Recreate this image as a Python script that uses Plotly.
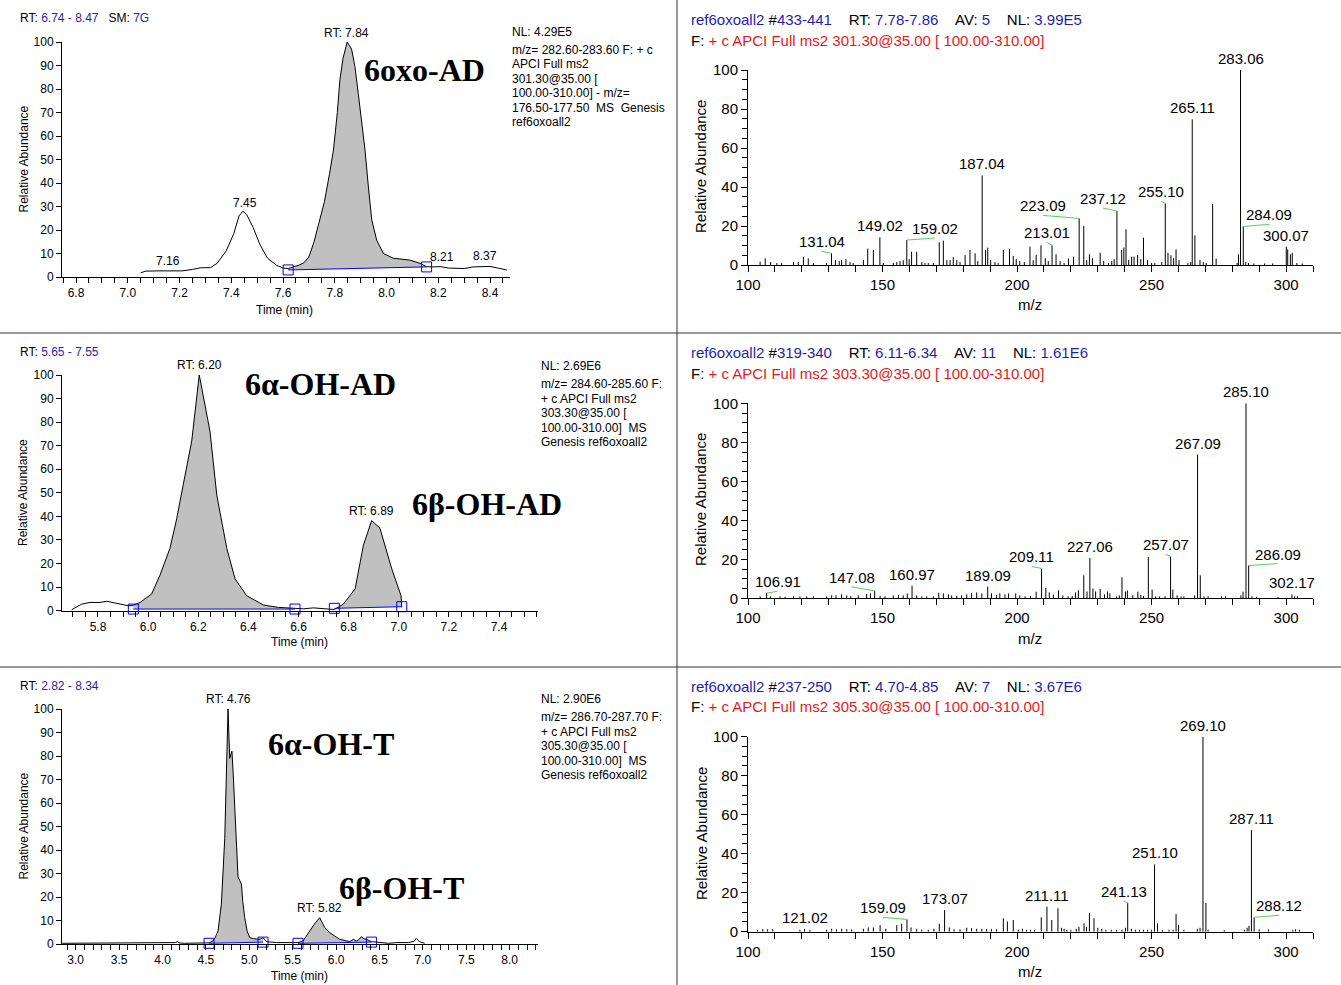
import plotly.graph_objects as go
import numpy as np

W, H = 1341, 985

# ---------------- chromatogram data ----------------
# 6oxo-AD  (m/z 283)
c1_t = [7.05, 7.07, 7.12, 7.16, 7.21, 7.25, 7.28, 7.32, 7.345, 7.38, 7.41, 7.43, 7.445, 7.46,
        7.485, 7.51, 7.54, 7.575, 7.60, 7.62, 7.64, 7.66, 7.68, 7.70, 7.72, 7.74, 7.76, 7.78,
        7.795, 7.81, 7.82, 7.832, 7.848, 7.865, 7.878, 7.891, 7.904, 7.917, 7.93, 7.943, 7.962,
        7.988, 8.026, 8.09, 8.13, 8.155, 8.18, 8.21, 8.24, 8.27, 8.30, 8.335, 8.37, 8.40, 8.43, 8.465]
c1_a = [1.8, 2.5, 2.6, 2.6, 2.6, 3.2, 3.9, 4.0, 5.8, 11.0, 18.5, 26.0, 28.0, 26.5,
        21.0, 14.0, 8.0, 5.0, 3.8, 3.6, 4.2, 5.0, 6.0, 8.5, 15.0, 23.0, 32.0, 44.0,
        54.0, 70.0, 84.0, 93.0, 100.0, 97.0, 89.5, 78.0, 66.8, 54.0, 38.4, 24.3, 15.7,
        10.0, 8.0, 7.2, 5.8, 4.4, 4.3, 4.4, 3.8, 3.6, 3.6, 4.3, 4.5, 4.5, 3.8, 3.0]
c1_int_t = [[7.62, 8.155]]
c1_int_b = [[3.0, 4.3]]
c1_lab_t = [7.156, 7.453, 7.847, 8.214, 8.38]
c1_lab = ["7.16", "7.45", "RT: 7.84", "8.21", "8.37"]

# 6a/6b-OH-AD (m/z 285)
c2_t = [5.695, 5.735, 5.768, 5.808, 5.835, 5.875, 5.921, 5.941, 5.968, 6.014, 6.047, 6.087,
        6.114, 6.140, 6.174, 6.204, 6.247, 6.274, 6.314, 6.347, 6.393, 6.460, 6.52, 6.586,
        6.62, 6.66, 6.70, 6.743, 6.779, 6.826, 6.859, 6.892, 6.925, 6.972, 7.009, 7.012]
c2_a = [0.4, 2.8, 3.5, 3.5, 4.0, 3.1, 2.1, 2.3, 3.5, 7.1, 15.0, 26.4,
        39.0, 53.4, 72.0, 100.0, 76.0, 49.0, 26.4, 13.5, 6.4, 2.4, 1.4, 1.0,
        0.8, 1.2, 0.8, 0.5, 2.8, 9.3, 27.8, 38.2, 35.0, 17.8, 6.4, 1.5]
c2_int_t = [[5.941, 6.586], [6.743, 7.012]]
c2_int_b = [[0.7, 0.7], [1.0, 1.7]]
c2_lab_t = [6.204, 6.892]
c2_lab = ["RT: 6.20", "RT: 6.89"]

# 6a/6b-OH-T (m/z 287)
c3_t = [2.845, 4.10, 4.15, 4.17, 4.19, 4.25, 4.486, 4.536, 4.582, 4.61, 4.64, 4.678, 4.717,
        4.755, 4.774, 4.787, 4.80, 4.815, 4.832, 4.85, 4.87, 4.89, 4.909, 4.925, 4.947, 4.975,
        5.005, 5.05, 5.10, 5.13, 5.158, 5.197, 5.25, 5.312, 5.40, 5.465, 5.503, 5.561, 5.619,
        5.66, 5.715, 5.76, 5.811, 5.84, 5.869, 5.92, 5.964, 6.00, 6.041, 6.10, 6.156, 6.20,
        6.23, 6.26, 6.29, 6.32, 6.35, 6.407, 6.45, 6.50, 6.604, 6.70, 6.836, 6.90, 6.924,
        6.96, 7.02]
c3_a = [0.3, 0.3, 0.6, 1.0, 0.5, 0.3, 0.3, 0.5, 1.3, 3.0, 5.6, 17.0, 45.0,
        100.0, 79.0, 81.0, 82.0, 72.0, 60.0, 44.0, 28.5, 27.0, 25.5, 18.0, 11.2, 5.5,
        2.7, 2.3, 2.0, 2.2, 2.7, 1.0, 0.7, 0.6, 0.6, 0.6, 0.3, 0.6, 1.3,
        3.5, 7.0, 9.0, 11.2, 9.0, 7.0, 5.0, 4.1, 3.0, 2.0, 1.6, 1.0, 2.0,
        1.2, 1.8, 3.1, 2.2, 2.0, 1.0, 0.8, 0.6, 0.3, 0.6, 0.6, 1.2, 2.4,
        1.0, 0.3]
c3_int_t = [[4.536, 5.158], [5.561, 6.407]]
c3_int_b = [[0.3, 0.8], [0.3, 0.8]]
c3_lab_t = [4.755, 5.811]
c3_lab = ["RT: 4.76", "RT: 5.82"]

# ---------------- spectra data ----------------
s1_mz = [104.5, 106.4, 108.4, 110.7, 112.5, 116.9, 118.7, 120.6, 122.4, 124.3, 129.2, 131.04,
         132.5, 133.9, 134.8, 136.4, 137.9, 139.1, 142.9, 144.5, 146.6, 149.02, 150.3, 154.0,
         155.3, 156.5, 157.7, 159.02, 159.9, 160.8, 162.7, 164.6, 165.8, 167.0, 168.9, 171.1,
         172.6, 173.9, 175.1, 176.3, 177.6, 178.8, 180.7, 182.5, 184.4, 185.4, 187.04, 188.3,
         189.1, 190.2, 191.8, 193.0, 194.9, 197.2, 198.6, 199.7, 201.0, 202.7, 204.8, 206.0,
         207.1, 208.9, 210.5, 211.6, 213.01, 214.5, 216.0, 217.5, 219.1, 221.0, 223.09, 224.8,
         225.9, 226.9, 228.0, 230.9, 232.2, 234.0, 235.2, 236.1, 237.12, 238.9, 239.7, 240.5,
         241.5, 242.6, 243.5, 244.8, 246.0, 247.0, 248.5, 250.0, 251.2, 253.8, 255.10, 256.1,
         257.2, 258.2, 259.1, 260.2, 263.5, 264.5, 265.11, 266.1, 268.0, 269.2, 270.3, 272.7,
         274.0, 281.8, 282.3, 283.06, 284.09, 285.0, 286.0, 288.0, 292.0, 295.0, 300.07, 300.6,
         301.6, 302.3, 304.0, 306.0]
s1_ab = [1.7, 3.4, 1.5, 1.0, 1.0, 1.5, 1.5, 4.3, 3.4, 1.0, 1.0, 6.0,
         2.5, 2.0, 2.5, 3.0, 1.5, 1.0, 2.5, 8.4, 7.7, 14.2, 1.0, 1.0,
         1.5, 2.0, 2.5, 12.8, 3.0, 6.8, 6.8, 1.5, 1.0, 1.0, 1.0, 11.6,
         12.5, 2.5, 2.5, 4.0, 2.5, 1.5, 5.1, 7.7, 6.0, 2.0, 46.0, 7.7,
         8.9, 2.5, 1.5, 1.0, 7.7, 8.4, 4.6, 3.0, 2.0, 1.5, 9.4, 2.5,
         5.1, 10.1, 3.5, 2.0, 10.1, 5.5, 2.0, 1.0, 3.3, 4.3, 23.9, 20.0,
         2.5, 5.5, 3.5, 6.3, 2.0, 1.0, 2.0, 3.0, 27.7, 7.7, 9.0, 18.3,
         2.5, 4.3, 4.3, 5.1, 3.0, 14.0, 2.5, 1.0, 1.0, 1.5, 31.6, 6.3,
         5.0, 3.5, 8.0, 2.5, 1.0, 1.5, 74.7, 15.2, 2.6, 1.5, 1.0, 31.3,
         3.3, 1.0, 5.5, 100.0, 19.8, 1.5, 1.0, 0.8, 0.8, 0.8, 9.4, 8.0,
         5.5, 6.3, 1.0, 0.8]
s1_labels = [131.04, 149.02, 159.02, 187.04, 213.01, 223.09, 237.12, 255.10, 265.11, 283.06, 284.09, 300.07]

s2_mz = [104.5, 106.91, 108.4, 111.9, 113.8, 116.9, 119.3, 121.8, 124.3, 129.2, 131.1, 132.7,
         134.8, 136.7, 138.2, 141.0, 144.1, 145.5, 147.08, 149.1, 150.9, 154.0, 155.9, 157.7,
         159.2, 160.97, 162.7, 164.6, 166.4, 168.9, 170.9, 172.6, 174.5, 175.7, 177.6, 179.4,
         181.3, 183.1, 185.0, 186.9, 189.09, 190.5, 192.4, 193.6, 195.5, 196.8, 199.5, 201.0,
         203.0, 205.0, 207.1, 209.11, 210.7, 212.0, 213.5, 215.4, 217.0, 219.0, 220.5, 221.7,
         222.8, 224.8, 226.0, 227.06, 228.2, 229.2, 230.9, 232.5, 233.6, 234.5, 237.0, 238.0,
         239.0, 240.3, 241.0, 243.0, 244.9, 246.0, 247.0, 248.8, 250.2, 251.5, 253.0, 255.0,
         257.07, 257.9, 259.5, 261.0, 262.0, 266.0, 267.09, 268.1, 269.5, 271.0, 276.0, 277.5,
         283.2, 284.0, 285.10, 286.09, 287.3, 289.0, 297.0, 302.17, 303.2, 304.2]
s2_ab = [1.0, 2.6, 1.0, 1.0, 0.8, 1.0, 1.0, 1.0, 1.0, 1.0, 1.5, 1.5,
         2.0, 1.5, 1.2, 1.5, 2.2, 2.5, 3.8, 1.3, 1.0, 1.5, 1.8, 1.5,
         2.5, 6.5, 1.5, 1.0, 1.0, 1.0, 2.8, 2.5, 2.0, 1.5, 1.3, 1.5,
         2.0, 2.8, 3.0, 2.5, 6.0, 2.5, 1.8, 2.5, 2.0, 2.5, 2.5, 1.5,
         1.0, 1.2, 3.4, 15.3, 5.3, 3.0, 2.0, 4.1, 1.5, 1.0, 1.2, 3.0,
         4.1, 11.8, 3.5, 20.7, 5.0, 3.5, 4.8, 2.0, 3.5, 2.5, 1.0, 1.5,
         10.8, 3.5, 4.0, 1.5, 3.4, 1.8, 1.2, 21.2, 4.5, 1.0, 1.0, 1.0,
         21.5, 4.5, 1.5, 1.0, 1.0, 1.5, 73.7, 11.8, 1.0, 1.0, 1.0, 1.0,
         1.5, 3.4, 100.0, 16.8, 1.0, 0.8, 0.6, 2.0, 1.0, 1.0]
s2_labels = [106.91, 147.08, 160.97, 189.09, 209.11, 227.06, 257.07, 267.09, 285.10, 286.09, 302.17]

s3_mz = [103.5, 105.5, 107.2, 109.2, 119.3, 121.02, 123.0, 129.2, 131.1, 132.9, 134.8, 136.7,
         138.5, 142.9, 144.7, 146.6, 149.1, 151.2, 155.3, 157.1, 159.09, 160.6, 162.7, 164.6,
         167.0, 169.1, 171.1, 173.07, 174.8, 176.6, 178.8, 181.3, 183.1, 185.0, 186.9, 188.7,
         190.5, 192.4, 194.9, 196.4, 198.6, 200.5, 202.0, 203.5, 205.0, 206.5, 209.0, 211.11,
         212.9, 215.2, 216.5, 217.5, 218.5, 220.0, 222.0, 223.0, 224.9, 225.8, 226.9, 228.6,
         230.0, 231.5, 233.0, 235.0, 237.0, 239.0, 240.3, 241.13, 242.5, 244.0, 245.5, 247.0,
         248.5, 250.0, 251.10, 252.2, 254.0, 256.5, 258.0, 259.1, 260.0, 262.0, 267.0, 268.0,
         269.10, 270.2, 271.0, 277.0, 284.5, 285.5, 286.2, 287.11, 288.12, 290.0, 293.5, 302.5,
         303.5, 305.0]
s3_ab = [1.0, 1.3, 1.2, 1.3, 1.0, 1.5, 1.0, 1.0, 1.5, 1.2, 1.5, 1.3,
         1.2, 1.5, 2.2, 2.2, 3.4, 1.5, 3.4, 4.1, 6.3, 2.2, 1.5, 1.0,
         1.0, 1.5, 4.1, 11.1, 2.2, 1.2, 1.2, 2.0, 1.8, 1.5, 1.5, 1.3,
         1.3, 1.3, 6.9, 5.2, 6.0, 1.0, 1.5, 1.0, 1.0, 1.0, 7.4, 12.8,
         6.0, 12.0, 2.0, 1.5, 1.0, 1.0, 1.5, 2.5, 4.3, 2.5, 9.7, 6.9,
         2.0, 1.5, 1.0, 1.0, 1.0, 1.0, 2.0, 14.8, 1.5, 1.0, 1.0, 1.0,
         1.0, 1.0, 34.5, 4.3, 0.8, 1.0, 1.0, 9.1, 3.5, 1.0, 1.5, 2.0,
         100.0, 14.8, 1.0, 0.8, 1.0, 2.0, 3.0, 52.1, 7.4, 1.2, 1.2, 1.0,
         1.2, 1.0]
s3_labels = [121.02, 159.09, 173.07, 211.11, 241.13, 251.10, 269.10, 287.11, 288.12]

# label placement offsets (pixels) for displaced labels (drawn with green leader)
s1_off = {131.04: (-10, 2), 159.02: (28, 2), 213.01: (-5, 3), 223.09: (-36, 3),
          237.12: (-14, 3), 255.10: (-4, 2), 284.09: (26, 2)}
s2_off = {106.91: (11, 2), 147.08: (-23, 4), 209.11: (-10, 2), 257.07: (-5, 2), 286.09: (29, 2)}
s3_off = {159.09: (-24, 2), 241.13: (-4, 2), 288.12: (25, 2)}

# ---------------- styling ----------------
BLUE_TXT = '#1f1fa8'
RED_TXT = '#e31b1b'
FILL = '#c0c0c0'
GREEN = '#5fc95f'
FONT = 'Liberation Sans, Arial, sans-serif'
SERIF = 'Liberation Serif, Times New Roman, serif'


def dom_x(a, b):
    return [a / W, b / W]


def dom_y(top, bottom):
    return [1 - bottom / H, 1 - top / H]


def px(xp):
    return xp / W


def py(yp):
    return 1 - yp / H


fig = go.Figure()


def axnames(n):
    return ('x' if n == 1 else f'x{n}'), ('y' if n == 1 else f'y{n}')


def chrom_panel(n, t, a, ints, bases, lab_t, labs):
    xa, ya = axnames(n)
    t = np.array(t, dtype=float)
    a = np.array(a, dtype=float)
    for (ts, te), (bs, be) in zip(ints, bases):
        m = (t >= ts - 1e-9) & (t <= te + 1e-9)
        fx = [ts] + list(t[m]) + [te]
        fy = [bs] + list(a[m]) + [be]
        fig.add_trace(go.Scatter(x=fx, y=fy, fill='toself', fillcolor=FILL, mode='lines',
                                 line=dict(width=0, color=FILL), xaxis=xa, yaxis=ya,
                                 hoverinfo='skip'))
    fig.add_trace(go.Scatter(x=t, y=a, mode='lines', line=dict(color='black', width=1),
                             xaxis=xa, yaxis=ya))
    for (ts, te), (bs, be) in zip(ints, bases):
        fig.add_trace(go.Scatter(x=[ts, te], y=[bs, be], mode='lines+markers',
                                 line=dict(color='#0000ff', width=1),
                                 marker=dict(symbol='square-open', size=10, color='#0000ff',
                                             line=dict(width=1)),
                                 cliponaxis=False, xaxis=xa, yaxis=ya))
    for tl, txt in zip(lab_t, labs):
        fig.add_annotation(x=tl, y=float(np.interp(tl, t, a)), text=txt, xref=xa, yref=ya,
                           showarrow=False, yanchor='bottom', yshift=1,
                           font=dict(size=12, family=FONT, color='black'))


def spec_panel(n, mz, ab, labels, offs):
    xa, ya = axnames(n)
    xs, ys = [], []
    for m, v in zip(mz, ab):
        xs += [m, m, None]
        ys += [0, v, None]
    fig.add_trace(go.Scatter(x=xs, y=ys, mode='lines', line=dict(color='black', width=1),
                             xaxis=xa, yaxis=ya))
    lookup = dict(zip(mz, ab))
    for m in labels:
        v = lookup[m]
        dx, dy = offs.get(m, (0, 1))
        if m in offs:
            fig.add_shape(type='line', xref=xa, yref=ya, xsizemode='pixel', ysizemode='pixel',
                          xanchor=m, yanchor=v, x0=0, x1=dx, y0=0, y1=dy,
                          line=dict(color=GREEN, width=1))
        fig.add_annotation(x=m, y=v, text=f"{m:.2f}", xref=xa, yref=ya, showarrow=False,
                           yanchor='bottom', xshift=dx, yshift=dy - 1 if m in offs else 1,
                           font=dict(size=15, family=FONT, color='black'))


chrom_panel(1, c1_t, c1_a, c1_int_t, c1_int_b, c1_lab_t, c1_lab)
chrom_panel(2, c2_t, c2_a, c2_int_t, c2_int_b, c2_lab_t, c2_lab)
chrom_panel(3, c3_t, c3_a, c3_int_t, c3_int_b, c3_lab_t, c3_lab)
spec_panel(4, s1_mz, s1_ab, s1_labels, s1_off)
spec_panel(5, s2_mz, s2_ab, s2_labels, s2_off)
spec_panel(6, s3_mz, s3_ab, s3_labels, s3_off)


def base_axis(fs):
    return dict(showline=True, linecolor='black', linewidth=1, ticks='outside',
                tickcolor='black', tickwidth=1, showgrid=False, zeroline=False,
                automargin=False,
                tickfont=dict(size=fs, family=FONT, color='black'), fixedrange=True)


layout_axes = {}
# chromatogram axes
chrom_specs = [
    (1, [62, 510], [6.7459, 8.4773], 6.8, 0.2, 0.05, 42, 277),
    (2, [62, 538], [5.6564, 7.5556], 5.8, 0.2, 0.05, 375, 610.7),
    (3, [62, 538], [2.842, 8.326], 3.0, 0.5, 0.1, 709, 944),
]
for n, xd, xr, t0, dt, mdt, ytop, ybot in chrom_specs:
    xa, ya = axnames(n)
    xk = 'xaxis' if n == 1 else f'xaxis{n}'
    yk = 'yaxis' if n == 1 else f'yaxis{n}'
    ax = base_axis(12)
    ax.update(domain=dom_x(*xd), range=xr, anchor=ya, tick0=t0, dtick=dt, tickformat='.1f',
              ticklen=5,
              minor=dict(ticks='outside', tick0=t0, dtick=mdt, ticklen=5, tickcolor='black',
                         showgrid=False))
    layout_axes[xk] = ax
    ay = base_axis(12)
    ay.update(domain=dom_y(ytop, ybot), range=[0, 100], anchor=xa, tick0=0, dtick=10,
              ticklen=5)
    layout_axes[yk] = ay

spec_specs = [(4, 70, 265), (5, 403.3, 598.3), (6, 736.7, 931.7)]
for n, ytop, ybot in spec_specs:
    xa, ya = axnames(n)
    ax = base_axis(15)
    ax.update(domain=dom_x(748, 1313), range=[100, 310], anchor=ya, tick0=100, dtick=50,
              ticklen=6,
              minor=dict(ticks='outside', tick0=100, dtick=10, ticklen=6, tickcolor='black',
                         showgrid=False))
    layout_axes[f'xaxis{n}'] = ax
    ay = base_axis(15)
    ay.update(domain=dom_y(ytop, ybot), range=[0, 100], anchor=xa, tick0=0, dtick=20,
              ticklen=6,
              minor=dict(ticks='outside', tick0=0, dtick=5, ticklen=5, tickcolor='black',
                         showgrid=False))
    layout_axes[f'yaxis{n}'] = ay

fig.update_layout(width=W, height=H, margin=dict(l=0, r=0, t=0, b=0, pad=0, autoexpand=False),
                  template='none',
                  paper_bgcolor='white', plot_bgcolor='white', showlegend=False,
                  font=dict(family=FONT, color='black'), **layout_axes)


def ptext(x, y, text, size, xanchor='left', yanchor='middle', angle=0, family=FONT,
          color='black'):
    fig.add_annotation(x=px(x), y=py(y), xref='paper', yref='paper', text=text,
                       showarrow=False, xanchor=xanchor, yanchor=yanchor, textangle=angle,
                       font=dict(size=size, family=family, color=color))


def blue(s):
    return f"<span style='color:{BLUE_TXT}'>{s}</span>"


def red(s):
    return f"<span style='color:{RED_TXT}'>{s}</span>"


SP = '&nbsp;&nbsp;&nbsp;'
SP4 = '&nbsp;&nbsp;&nbsp;&nbsp;'
# left headers
ptext(18, 18, "RT: " + blue("6.74 - 8.47") + SP + "SM: " + blue("7G"), 12)
ptext(18, 352, "RT: " + blue("5.65 - 7.55"), 12)
ptext(18, 686, "RT: " + blue("2.82 - 8.34"), 12)

# chromatogram info blocks
info1 = ["m/z= 282.60-283.60 F: + c", "APCI Full ms2", "301.30@35.00 [",
         "100.00-310.00] - m/z=", "176.50-177.50  MS  Genesis", "ref6oxoall2"]
info2 = ["m/z= 284.60-285.60 F:", "+ c APCI Full ms2", "303.30@35.00 [",
         "100.00-310.00]  MS", "Genesis ref6oxoall2"]
info3 = ["m/z= 286.70-287.70 F:", "+ c APCI Full ms2", "305.30@35.00 [",
         "100.00-310.00]  MS", "Genesis ref6oxoall2"]
for x0, y0, nl, lines in [(510, 32, "NL: 4.29E5", info1), (539, 366, "NL: 2.69E6", info2),
                          (539, 699, "NL: 2.90E6", info3)]:
    ptext(x0, y0, nl, 12)
    for i, ln in enumerate(lines):
        ptext(x0, y0 + 18 + i * 14.5, ln.replace('  ', '&nbsp;&nbsp;'), 12)

# axis titles
for yc in [159.5, 493, 826.5]:
    ptext(23, yc, "Relative Abundance", 12, xanchor='center', angle=-90)
for xc, yc in [(284, 310), (299, 642), (299, 976)]:
    ptext(xc, yc, "Time (min)", 12, xanchor='center')
for yc in [167, 500, 834]:
    ptext(701, yc, "Relative Abundance", 15, xanchor='center', angle=-90)
for yc in [305, 638, 971]:
    ptext(1030, yc, "m/z", 15, xanchor='center')

# spectrum headers
hdr = [("433-441", "7.78-7.86", "5", "3.99E5", "301.30", 20),
       ("319-340", "6.11-6.34", "11", "1.61E6", "303.30", 353),
       ("237-250", "4.70-4.85", "7", "3.67E6", "305.30", 686)]
for scans, rt, av, nl, prec, y0 in hdr:
    ptext(689, y0, blue("ref6oxoall2") + " #" + blue(scans) + SP4 + "RT: " + blue(rt) + SP4
          + "AV: " + blue(av) + SP4 + "NL: " + blue(nl), 15)
    ptext(689, y0 + 20, "F: " + red(f"+ c APCI Full ms2 {prec}@35.00 [ 100.00-310.00]"), 15)

# compound names
for x, y, s in [(424, 70, "6oxo-AD"), (320, 384, "6α-OH-AD"), (487, 504, "6β-OH-AD"),
                (331, 744, "6α-OH-T"), (402, 888, "6β-OH-T")]:
    ptext(x, y, f"<b>{s}</b>", 32, xanchor='center', family=SERIF)

# panel dividers
for yl in [333, 667]:
    fig.add_shape(type='line', xref='paper', yref='paper', x0=0, x1=1, y0=py(yl), y1=py(yl),
                  line=dict(color='#333333', width=1))
fig.add_shape(type='line', xref='paper', yref='paper', x0=px(677), x1=px(677), y0=0, y1=1,
              line=dict(color='#333333', width=1))

fig.write_html("out.html", config={'displayModeBar': False},
               post_script="document.body.style.margin='0';document.body.style.padding='0';"
                           "document.body.style.overflow='hidden';")
